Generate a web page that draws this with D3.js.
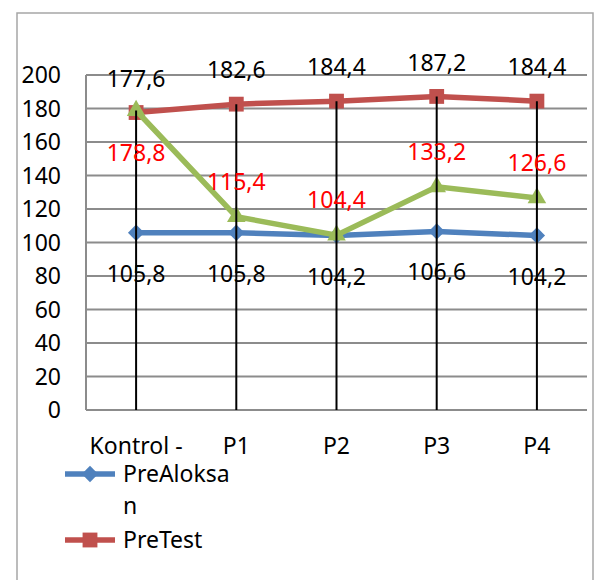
<!DOCTYPE html>
<html>
<head>
<meta charset="utf-8">
<script src="https://cdn.jsdelivr.net/npm/d3@7"></script>
<style>
  body { margin: 0; background: #fff; }
  svg text { font-family: "Noto Sans", "Open Sans", sans-serif; }
</style>
</head>
<body>
<svg class="chart" width="595" height="580"></svg>
<script>
var categories = ['Kontrol -', 'P1', 'P2', 'P3', 'P4'];
var preAloksan = [105.8, 105.8, 104.2, 106.6, 104.2];
var preTest = [177.6, 182.6, 184.4, 187.2, 184.4];
var third = [178.8, 115.4, 104.4, 133.2, 126.6];   // 3rd series, name cut off in legend
var yTicks = [0, 20, 40, 60, 80, 100, 120, 140, 160, 180, 200];
var legendNames = ['PreAloksan', 'PreTest'];

var fmt = function(v) { return d3.format('.1f')(v).replace('.', ','); };
var fs = 23;

var margin = { top: 75, left: 86 },
    width = 501,
    height = 335;

var svg = d3.select('.chart');

// outer frame
svg.append('rect')
  .attr('x', 17).attr('y', 13)
  .attr('width', 576).attr('height', 600)
  .attr('fill', 'none')
  .attr('stroke', '#a6a6a6')
  .attr('stroke-width', 1.5);

var g = svg.append('g').attr('transform', 'translate(' + margin.left + ',' + margin.top + ')');

var x = d3.scaleBand().domain(categories).range([0, width]);
var y = d3.scaleLinear().domain([0, 200]).range([height, 0]);
var cx = function(i) { return x(categories[i]) + x.bandwidth() / 2; };

// gridlines
g.selectAll('.grid')
  .data(yTicks)
  .enter().append('line')
  .attr('x1', 0).attr('x2', width)
  .attr('y1', function(d) { return y(d); })
  .attr('y2', function(d) { return y(d); })
  .attr('stroke', '#8c8c8c')
  .attr('stroke-width', 2);

g.append('line')
  .attr('x1', 0).attr('x2', 0)
  .attr('y1', 0).attr('y2', height)
  .attr('stroke', '#8c8c8c')
  .attr('stroke-width', 2);

// y axis labels
g.selectAll('.ylab')
  .data(yTicks)
  .enter().append('text')
  .attr('x', -25)
  .attr('y', function(d) { return y(d); })
  .attr('dy', '0.35em')
  .attr('text-anchor', 'end')
  .attr('font-size', fs)
  .text(function(d) { return d; });

// x labels
g.selectAll('.xlab')
  .data(categories)
  .enter().append('text')
  .attr('x', function(d, i) { return cx(i); })
  .attr('y', height + 36)
  .attr('dy', '0.35em')
  .attr('text-anchor', 'middle')
  .attr('font-size', fs)
  .text(function(d) { return d; });

var line = d3.line()
  .x(function(d, i) { return cx(i); })
  .y(function(d) { return y(d); });

var diamond = d3.symbol().type(d3.symbolDiamond2).size(170);
var square = d3.symbol().type(d3.symbolSquare).size(220);
var triangle = d3.symbol().type(d3.symbolTriangle).size(150);

function drawSeries(vals, color, sym) {
  g.append('path')
    .datum(vals)
    .attr('d', line)
    .attr('fill', 'none')
    .attr('stroke', color)
    .attr('stroke-width', 5.5);
  g.selectAll(null)
    .data(vals)
    .enter().append('path')
    .attr('transform', function(d, i) { return 'translate(' + cx(i) + ',' + y(d) + ')'; })
    .attr('d', sym)
    .attr('fill', color);
}

drawSeries(preAloksan, '#4f81bd', diamond);
drawSeries(preTest, '#c0504d', square);
drawSeries(third, '#9bbb59', triangle);

// drop lines, drawn over the markers like in the picture
g.selectAll('.drop')
  .data(categories)
  .enter().append('line')
  .attr('x1', function(d, i) { return cx(i); })
  .attr('x2', function(d, i) { return cx(i); })
  .attr('y1', function(d, i) { return y(Math.max(preAloksan[i], preTest[i], third[i])); })
  .attr('y2', height)
  .attr('stroke', '#000')
  .attr('stroke-width', 2);

// data labels
g.selectAll('.lblA')
  .data(preAloksan)
  .enter().append('text')
  .attr('x', function(d, i) { return cx(i); })
  .attr('y', function(d) { return y(d) + 41; })
  .attr('dy', '0.35em')
  .attr('text-anchor', 'middle')
  .attr('font-size', fs)
  .text(fmt);

g.selectAll('.lblT')
  .data(preTest)
  .enter().append('text')
  .attr('x', function(d, i) { return cx(i); })
  .attr('y', function(d) { return y(d) - 34; })
  .attr('dy', '0.35em')
  .attr('text-anchor', 'middle')
  .attr('font-size', fs)
  .text(fmt);

g.selectAll('.lbl3')
  .data(third)
  .enter().append('text')
  .attr('x', function(d, i) { return cx(i); })
  .attr('y', function(d, i) { return i === 0 ? y(d) + 42 : y(d) - 35; })
  .attr('dy', '0.35em')
  .attr('text-anchor', 'middle')
  .attr('font-size', fs)
  .attr('fill', '#ff0000')
  .text(fmt);

// legend
var leg = svg.append('g');
var legColors = ['#4f81bd', '#c0504d'];
var legSyms = [diamond, square];
var legY = [474, 540];
legendNames.forEach(function(name, i) {
  leg.append('line')
    .attr('x1', 65).attr('x2', 115)
    .attr('y1', legY[i]).attr('y2', legY[i])
    .attr('stroke', legColors[i])
    .attr('stroke-width', 5.5);
  leg.append('path')
    .attr('transform', 'translate(90,' + legY[i] + ')')
    .attr('d', legSyms[i])
    .attr('fill', legColors[i]);
});
// first name wraps in the original
leg.append('text').attr('x', 123).attr('y', 474).attr('dy', '0.35em')
  .attr('font-size', fs).text(legendNames[0].slice(0, 9));
leg.append('text').attr('x', 123).attr('y', 506).attr('dy', '0.35em')
  .attr('font-size', fs).text(legendNames[0].slice(9));
leg.append('text').attr('x', 123).attr('y', 540).attr('dy', '0.35em')
  .attr('font-size', fs).text(legendNames[1]);
</script>
</body>
</html>
